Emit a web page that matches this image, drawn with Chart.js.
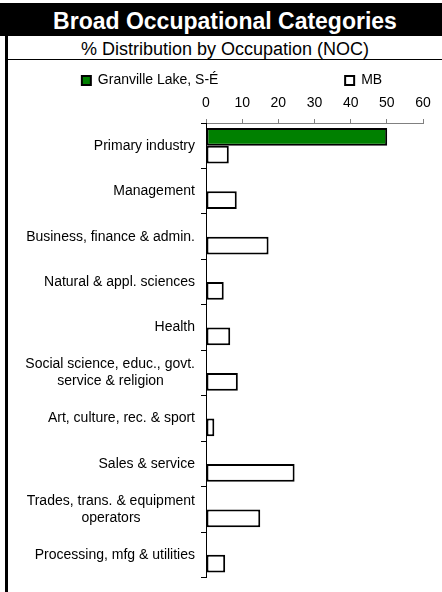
<!DOCTYPE html>
<html>
<head>
<meta charset="utf-8">
<script src="https://cdn.jsdelivr.net/npm/chart.js@4"></script>
<style>
    body { margin: 0; background: #fff; font-family: "Liberation Sans", Arial, sans-serif; }
    #wrap { position: relative; width: 442px; height: 592px; overflow: hidden; }
    #title { position: absolute; left: 0; top: 3px; width: 434px; height: 33px; padding-left: 8px;
             background: #000; color: #fff; font-weight: bold; font-size: 23px; line-height: 37px; text-align: center; white-space: nowrap; }
    #subtitle { position: absolute; left: 8px; top: 36px; width: 434px; height: 23px;
                font-size: 18px; line-height: 26px; text-align: center; color: #000; white-space: nowrap; }
    #rule { position: absolute; left: 8px; top: 59px; width: 434px; height: 1px; background: #000; }
    #leftBorder { position: absolute; left: 5px; top: 36px; width: 3px; height: 556px; background: #000; }
    #chartBox { position: absolute; left: 8px; top: 60px; width: 434px; height: 532px; }
    canvas { display: block; }
</style>
</head>
<body>
<div id="wrap">
    <div id="title">Broad Occupational Categories</div>
    <div id="subtitle">% Distribution by Occupation (NOC)</div>
    <div id="rule"></div>
    <div id="leftBorder"></div>
    <div id="chartBox"><canvas id="occChart" width="434" height="532"></canvas></div>
</div>
<script>
    const categories = [
        ["Primary industry"],
        ["Management"],
        ["Business, finance & admin."],
        ["Natural & appl. sciences"],
        ["Health"],
        ["Social science, educ., govt.", "service & religion"],
        ["Art, culture, rec. & sport"],
        ["Sales & service"],
        ["Trades, trans. & equipment", "operators"],
        ["Processing, mfg & utilities"]
    ];
    const seriesNames = ["Granville Lake, S-É", "MB"];
    const granvilleValues = [50.1, 0, 0, 0, 0, 0, 0, 0, 0, 0];
    const mbValues = [6.3, 8.5, 17.3, 4.9, 6.7, 8.8, 2.3, 24.5, 15.0, 5.3];
    const xTicks = [0, 10, 20, 30, 40, 50, 60];

    const FONT = '"Liberation Sans", Arial, sans-serif';
    Chart.defaults.font.family = FONT;
    Chart.defaults.color = "#000";

    const measureCtx = document.createElement("canvas").getContext("2d");
    measureCtx.font = "14px " + FONT;
    const NBSP = "\u00a0";

    // right aligned labels, but the lines of a label centred on each other
    function centreLines(lines) {
        if (lines.length < 2) return lines[0];
        const widths = lines.map(l => measureCtx.measureText(l).width);
        const maxW = Math.max(...widths);
        const sp = measureCtx.measureText(NBSP).width;
        return lines.map((l, i) => l + NBSP.repeat(Math.round((maxW - widths[i]) / 2 / sp)));
    }

    function padTo(text, width) {
        const sp = measureCtx.measureText(NBSP).width;
        const w = measureCtx.measureText(text).width;
        return text + NBSP.repeat(Math.max(0, Math.round((width - w) / sp)));
    }

    // fixed legend height, and the legend sits a bit right of the canvas centre
    const legendTweak = {
        id: "legendTweak",
        beforeInit(chart) {
            const origFit = chart.legend.fit;
            chart.legend.fit = function () {
                origFit.bind(chart.legend)();
                this.height = 33.5;
            };
        },
        afterLayout(chart) {
            if (chart.legend) chart.legend.left += 33;
        }
    };

    const ctx = document.getElementById("occChart").getContext("2d");

    new Chart(ctx, {
        type: "bar",
        data: {
            labels: categories.map(centreLines),
            datasets: [
                {
                    label: seriesNames[0],
                    data: granvilleValues,
                    backgroundColor: "#008000",
                    borderColor: "#000",
                    borderWidth: 2,
                    borderSkipped: false
                },
                {
                    label: seriesNames[1],
                    data: mbValues,
                    backgroundColor: "#fff",
                    borderColor: "#000",
                    borderWidth: 2,
                    borderSkipped: false
                }
            ]
        },
        options: {
            indexAxis: "y",
            responsive: false,
            animation: false,
            devicePixelRatio: 1,
            layout: { padding: { left: 0, right: 19, top: 3.5, bottom: 10 } },
            categoryPercentage: 0.78,
            barPercentage: 1.0,
            plugins: {
                tooltip: { enabled: false },
                legend: {
                    position: "top",
                    labels: {
                        boxWidth: 9,
                        boxHeight: 9,
                        padding: 10,
                        font: { size: 14, lineHeight: 1 },
                        generateLabels: chart => {
                            const items = Chart.defaults.plugins.legend.labels.generateLabels(chart);
                            items[0].text = padTo(items[0].text, 237);
                            return items;
                        }
                    }
                }
            },
            scales: {
                x: {
                    position: "top",
                    min: 0,
                    max: 60,
                    afterBuildTicks: s => { s.ticks = xTicks.map(v => ({ value: v })); },
                    afterFit: s => { s.height = 26; },
                    ticks: { font: { size: 14, lineHeight: 1 }, color: "#000", padding: 9 },
                    grid: { drawOnChartArea: false, tickLength: 4, color: "#808080" },
                    border: { color: "#808080", width: 1 }
                },
                y: {
                    afterFit: s => { s.width = 198; },
                    ticks: { font: { size: 14 }, color: "#000", padding: 6, autoSkip: false },
                    grid: { drawOnChartArea: false, tickLength: 5, color: "#000", offset: true },
                    border: { color: "#000", width: 1 }
                }
            }
        },
        plugins: [legendTweak]
    });
</script>
</body>
</html>
